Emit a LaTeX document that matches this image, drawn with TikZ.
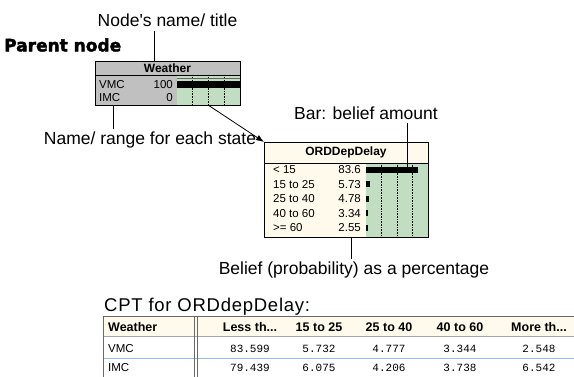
\documentclass[tikz,border=0pt]{standalone}
\usepackage{fontspec}
\setmainfont{Liberation Sans}
\setmonofont{Liberation Mono}
\newfontfamily\heavyfont[FakeBold=2.5]{DejaVu Sans Bold}
\usetikzlibrary{positioning, arrows.meta}

\definecolor{nodegray}{RGB}{192,192,192}
\definecolor{beliefgreen}{RGB}{194,222,194}
\definecolor{nodecream}{RGB}{255,250,236}
\definecolor{tablegray}{RGB}{105,105,105}
\definecolor{rowblue}{RGB}{150,190,232}
\newcommand\cutdots{...}

\begin{document}
\begin{tikzpicture}[
    % GLOBAL CFG
    x=1pt, y=-1pt,
    >=Latex,
    % Styles
    callout/.style={% For the explaining texts
        font=\fontsize{17.5}{20}\selectfont,
        inner sep=0pt,
        },
    netbox/.style={% For the network nodes
        rectangle,
        draw,
        line width=0.8pt,
        inner sep=0pt,
        anchor=north west,
        },
    nodetitle/.style={% Title of a network node
        font=\fontsize{12}{14}\selectfont\bfseries,
        inner sep=0pt,
        },
    statetext/.style={% State names and beliefs
        font=\fontsize{11.5}{13}\selectfont,
        inner sep=0pt,
        },
    cpthead/.style={% Header cells of the table
        font=\fontsize{12.5}{14}\selectfont\bfseries,
        inner sep=0pt,
        },
    cptval/.style={% Values of the table
        font=\ttfamily\fontsize{11}{12}\selectfont,
        inner sep=0pt,
        },
    leader/.style={% Lines from the texts
        line width=0.8pt,
        },
    ]

\clip (0,0) rectangle (574,377);

%Start drawing the thing...
    % Parent node: Weather
    \node [netbox, fill=nodegray, minimum width=145pt, minimum height=44pt] (weather) at (95,61) {};
    \fill [beliefgreen] (177,75) rectangle (240,105);
    \foreach \k in {1,2,3}
        \draw [densely dotted, line width=0.6pt] ({177+\k*15.75},75) -- ++(0,30);
    \draw [black!60, line width=0.6pt] (177,78.5) -- (240,78.5);
    \fill [black] (177,81) rectangle (240,88);
    \draw [line width=0.8pt] (weather.north west) ++(0,14) -- ++(145,0);
    \draw [line width=0.8pt] (weather.north west) rectangle (weather.south east);
    \node [nodetitle] (wtitle) at (167.5,68) {Weather};
    \node [statetext, anchor=west] (vmc) at (99,84.5) {VMC};
    \node [statetext, anchor=east] (vmcval) at (173,84.5) {100};
    \node [statetext, anchor=west] (imc) at (99,97.5) {IMC};
    \node [statetext, anchor=east] (imcval) at (173,97.5) {0};

    % Child node: ORDDepDelay
    \node [netbox, fill=nodecream, minimum width=164pt, minimum height=95pt] (ord) at (264,142) {};
    \fill [beliefgreen] (366,163) rectangle (428,237);
    \foreach \k in {1,2,3}
        \draw [densely dotted, line width=0.6pt] ({366+\k*15.5},163) -- ++(0,74);
    \draw [line width=0.8pt] (ord.north west) ++(0,21) -- ++(164,0);
    \draw [line width=0.8pt] (ord.north west) rectangle (ord.south east);
    \node [nodetitle] (otitle) at (346,152.5) {ORDDepDelay};
    \foreach \r/\s/\v in {0/< 15/83.6, 1/15 to 25/5.73, 2/25 to 40/4.78, 3/40 to 60/3.34, 4/>= 60/2.55}{
        \node [statetext, anchor=west] (ostate\r) at (273,{170+\r*14.5}) {\s};
        \node [statetext, anchor=east] (oval\r) at (361,{170+\r*14.5}) {\v};
        \fill [black] (366,{167+\r*14.5}) rectangle ++({max(\v*0.62,1.6)},6);
    }

    % Explaining texts
    \node [callout] (lbltitle) at (167.5,20) {Node\textquotesingle s name/ title};
    \node [font=\heavyfont\fontsize{17}{19}\selectfont, inner sep=0pt, anchor=west] (lblparent) at (4,45) {Parent node};
    \node [callout] (lblrange) at (150,140) {Name/ range for each state};
    \node [callout] (lblbar) at (366,113) {Bar: belief amount};
    \node [callout] (lblbelief) at (354,270) {Belief (probability) as a percentage};

    % Points the texts refer to
    \coordinate (ptitle) at (154,61);
    \coordinate (prange) at (113,105);
    \coordinate (pbar) at (407,171);
    \coordinate (pbelief) at (351,237);
    \coordinate (wlink) at (208,105);

% Start connecting all.
    \draw [leader, shorten <=4pt] (lbltitle.south -| ptitle) -- (ptitle);
    \draw [leader, shorten >=3pt] (prange) -- (prange |- lblrange.north);
    \draw [leader, shorten <=3pt] (lblbar.south -| pbar) -- (pbar);
    \draw [leader, shorten >=3pt] (pbelief) -- (pbelief |- lblbelief.north);
    \draw [leader, -{Latex[length=8pt, width=6pt]}] (wlink) -- (ord.north west);

    % CPT table
    \node [font=\fontsize{18.5}{20}\selectfont\addfontfeature{LetterSpace=4}, inner sep=0pt, anchor=west] (cpttitle) at (104,307) {CPT for ORDdepDelay:};
    \fill [nodecream] (103,317) rectangle (574,336);
    \draw [tablegray!60, line width=0.8pt] (103,336) -- (574,336);
    \draw [rowblue, line width=0.8pt] (103,358) -- (574,358);
    \draw [tablegray, line width=1pt] (574,317) -- (103,317) -- (103,380);
    \draw [tablegray, line width=1pt] (194,317) -- (194,380);
    \draw [tablegray, line width=1pt] (197.5,317) -- (197.5,380);
    \node [cpthead, anchor=west] (hweather) at (108,327) {Weather};
    \node [statetext, anchor=west] (tvmc) at (108,348.5) {VMC};
    \node [statetext, anchor=west] (timc) at (108,367.5) {IMC};
    \foreach \c/\x/\h/\a/\b in {1/250/Less th\cutdots/83.599/79.439, 2/319/15 to 25/5.732/6.075,
                                3/389/25 to 40/4.777/4.206, 4/460/40 to 60/3.344/3.738,
                                5/539/More th\cutdots/2.548/6.542}{
        \node [cpthead] (head\c) at (\x,327) {\h};
        \node [cptval] (vmcp\c) at (\x,349) {\a};
        \node [cptval] (imcp\c) at (\x,367.5) {\b};
    }

\end{tikzpicture}
\end{document}
